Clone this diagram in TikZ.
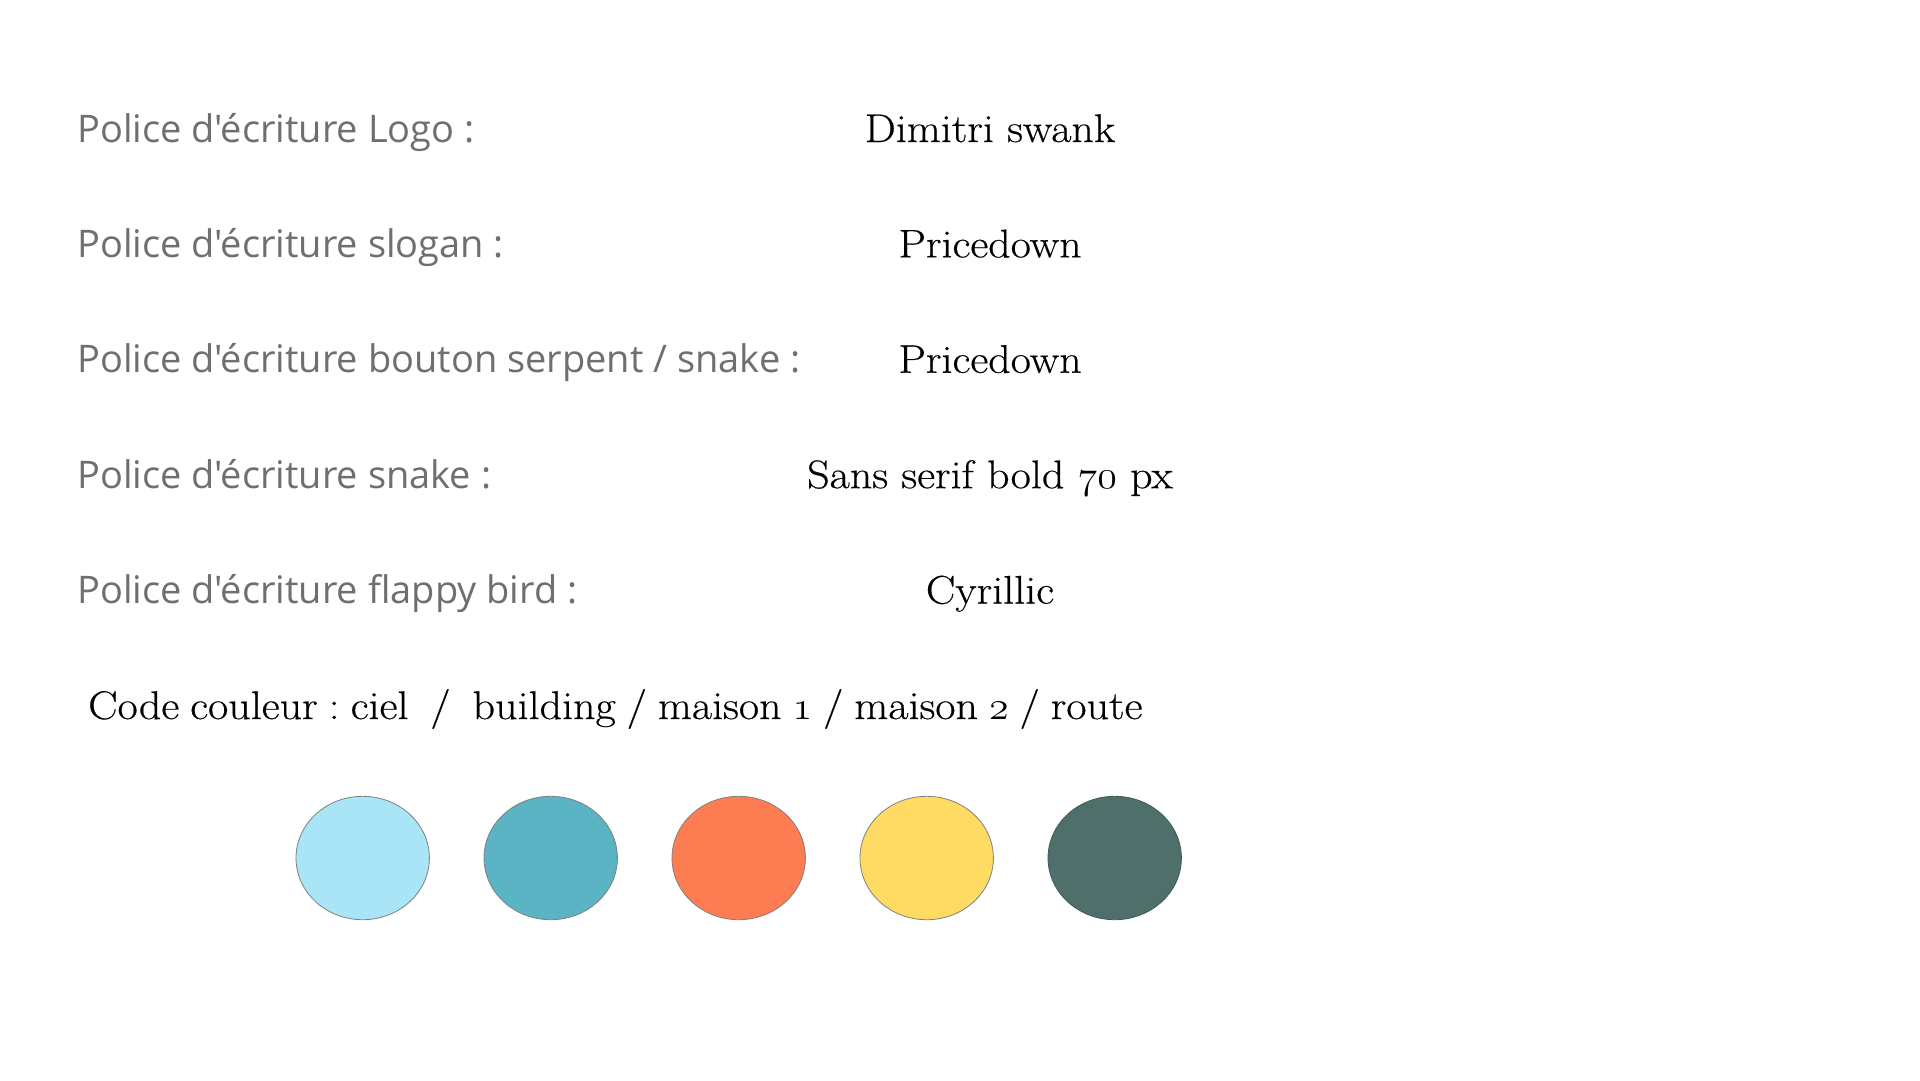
\RequirePackage{fix-cm}
\documentclass[tikz,border=0pt]{standalone}
\usepackage{fontspec}
\setmainfont{Latin Modern Roman}[FakeStretch=1.1, FakeBold=0.4]
\newfontfamily\labfont{Open Sans}
\usetikzlibrary{shapes.geometric}
\definecolor{labgray}{HTML}{6F6F6F}
\definecolor{ciel}{HTML}{A9E5F6}
\definecolor{building}{HTML}{5AB4C3}
\definecolor{maisonA}{HTML}{FE7C52}
\definecolor{maisonB}{HTML}{FFDB63}
\definecolor{route}{HTML}{4F706A}
\newcommand{\osn}[1]{{\fontencoding{OML}\fontfamily{cmm}\fontseries{m}\fontshape{it}\selectfont #1}}
\frenchspacing
\tikzset{
  lab/.style={anchor=base west, inner sep=0pt, text=labgray, font=\labfont\fontsize{38}{42}\selectfont},
  val/.style={anchor=base, inner sep=0pt, text=black, font=\fontsize{40}{44}\selectfont},
  swatch/.style={ellipse, minimum width=133.4pt, minimum height=123.4pt, inner sep=0pt, draw=black!50, line width=0.8pt}
}
\begin{document}
\begin{tikzpicture}[x=1pt,y=-1pt]
\useasboundingbox[fill=white] (0,0) rectangle (1920,1080);
\node[lab] (l1) at (77,142) {Police d'écriture Logo :};
\node[lab] (l2) at (77,257.4) {Police d'écriture slogan :};
\node[lab] (l3) at (77,372.8) {Police d'écriture bouton serpent / snake :};
\node[lab] (l4) at (77,488.2) {Police d'écriture snake :};
\node[lab] (l5) at (77,603.6) {Police d'écriture flappy bird :};
\node[val] (v1) at (990,142) {Dimitri swank};
\node[val] (v2) at (990,257.4) {Pricedown};
\node[val] (v3) at (990,372.8) {Pricedown};
\node[val] (v4) at (990,488.2) {Sans serif bold \osn{70} px};
\node[val] (v5) at (990,603.6) {Cyrillic};
\node[val, anchor=base west] (code) at (88,719) {\spaceskip=11pt Code couleur : ciel\hspace{11pt}\hspace{11pt}/\hspace{11pt}\hspace{11pt}building / maison \osn{1} / maison \osn{2} / route};
\node[swatch, fill=ciel] (c1) at (362.7,858) {};
\node[swatch, fill=building] (c2) at (550.7,858) {};
\node[swatch, fill=maisonA] (c3) at (738.7,858) {};
\node[swatch, fill=maisonB] (c4) at (926.7,858) {};
\node[swatch, fill=route, draw=route!80!black] (c5) at (1114.7,858) {};
\end{tikzpicture}
\end{document}
